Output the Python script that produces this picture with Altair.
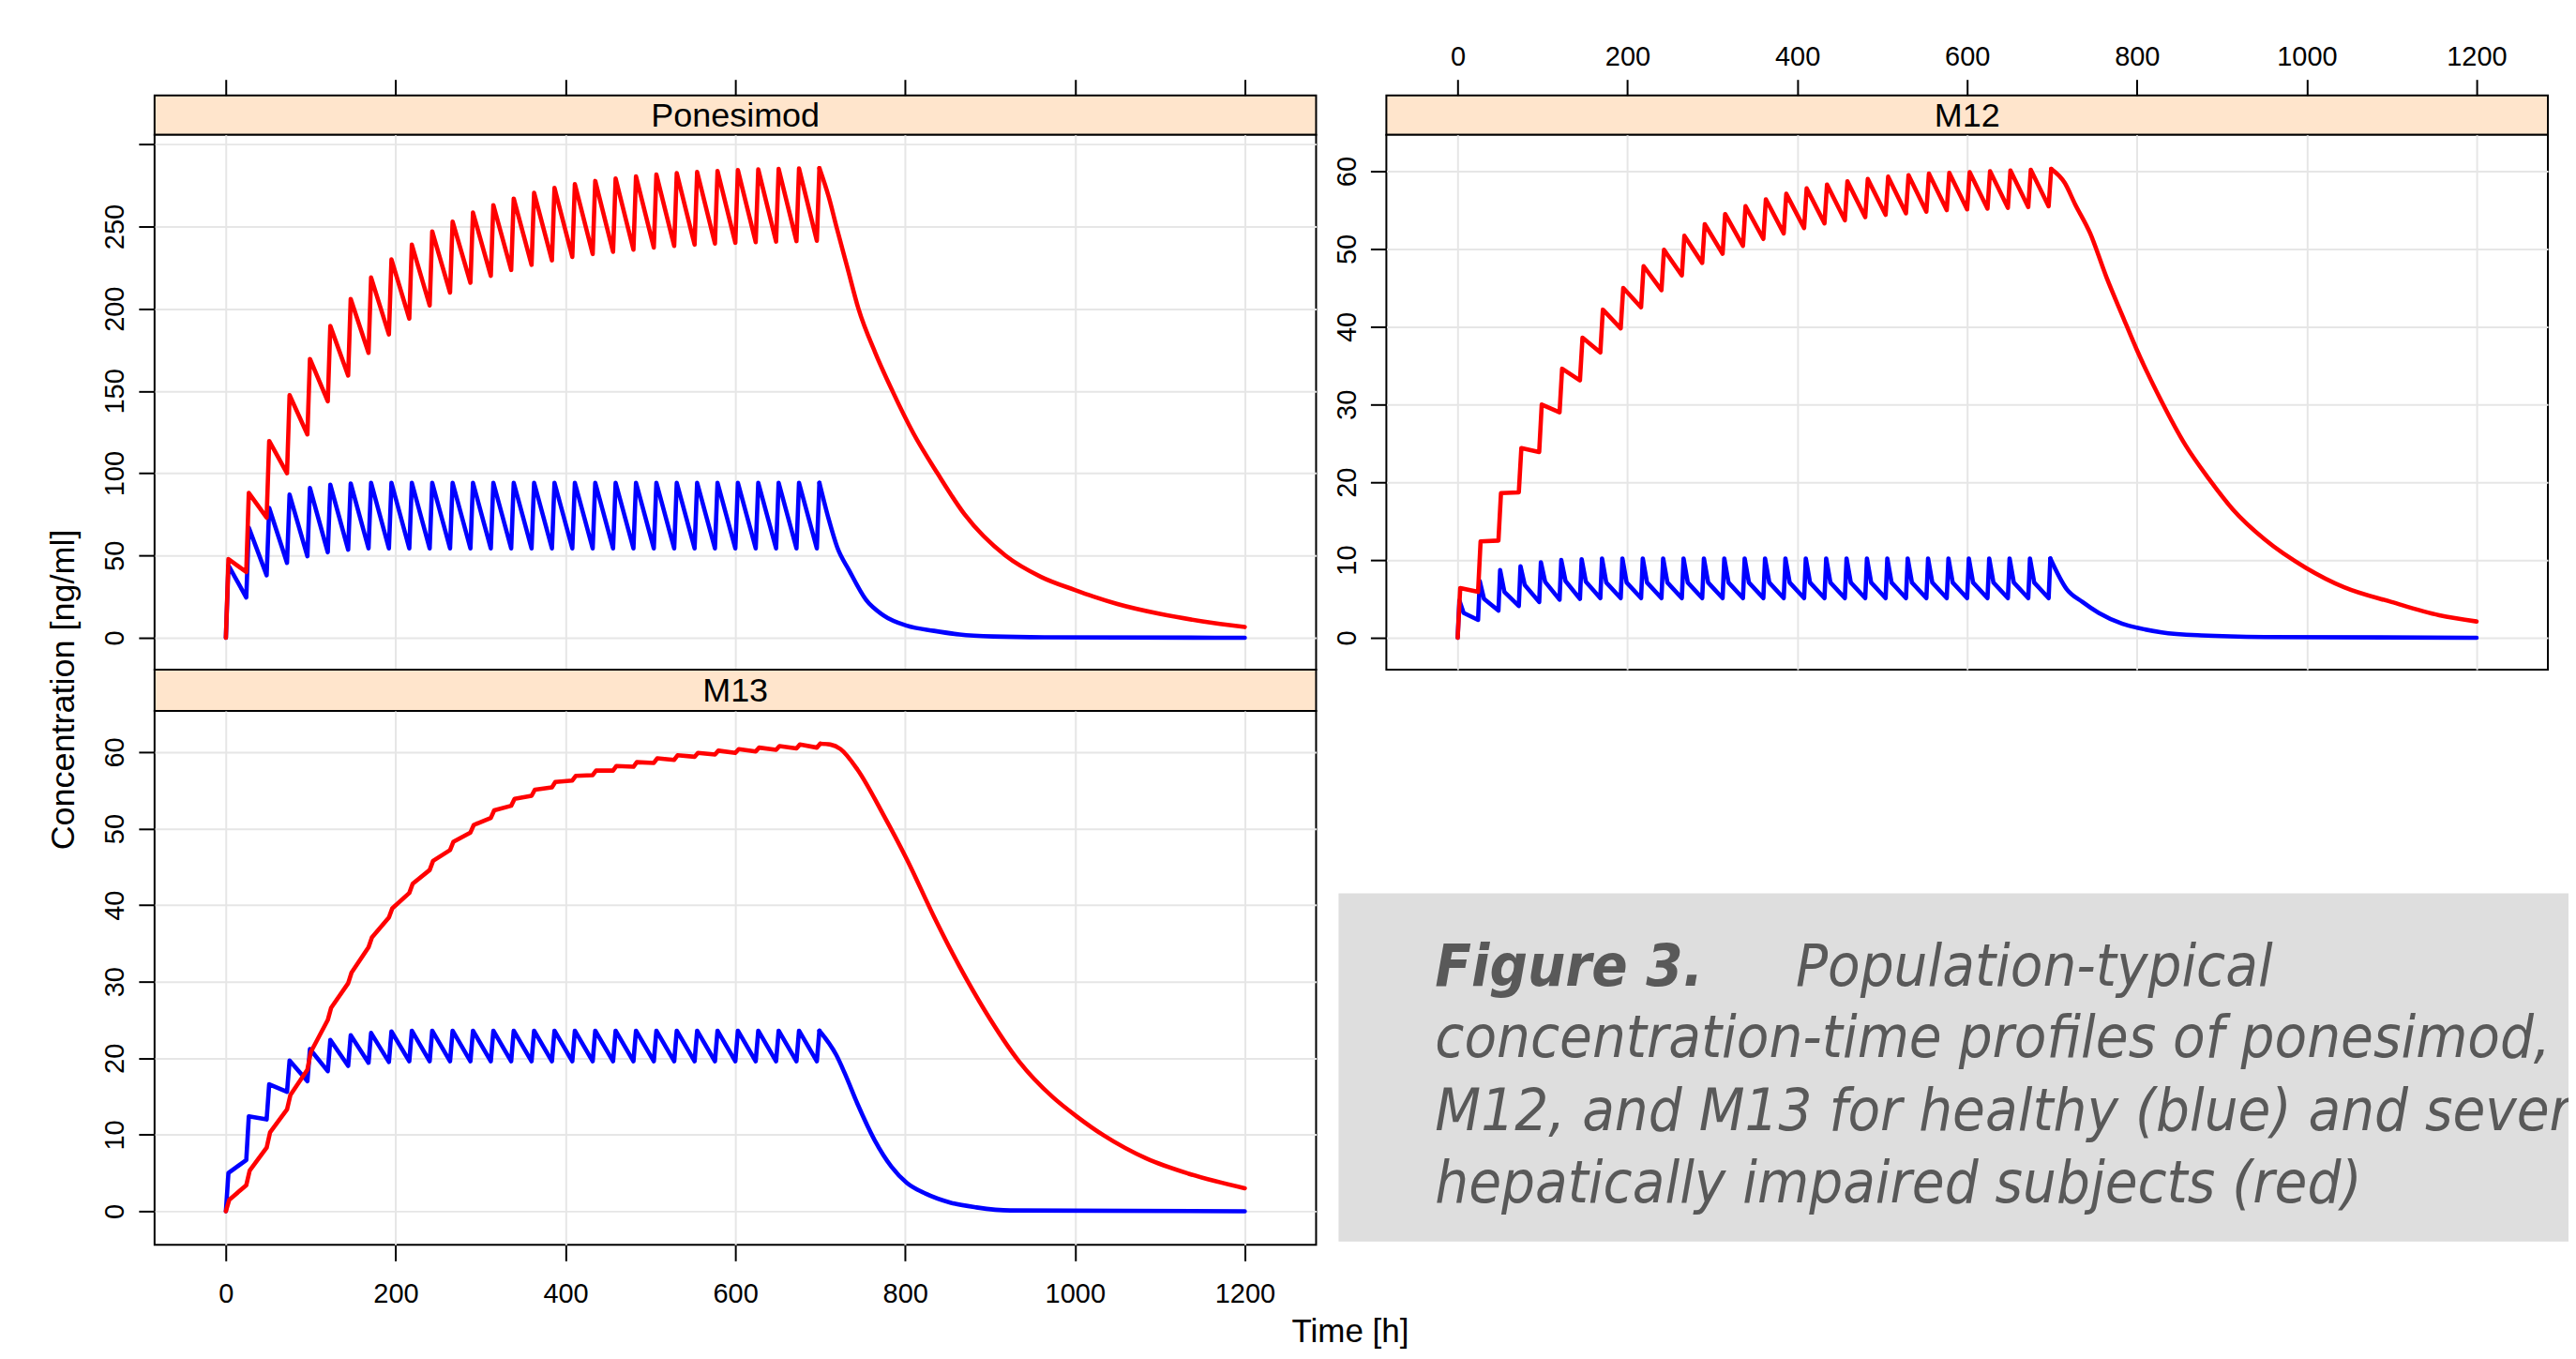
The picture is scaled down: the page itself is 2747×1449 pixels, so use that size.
import altair as alt
import pandas as pd

# ---------------- data ----------------
DOSE_TIMES = [0, 24, 48, 72, 96, 120, 144, 168, 192, 216, 240, 264, 288, 312, 336,
              360, 384, 408, 432, 456, 480, 504, 528, 552, 576, 600, 624, 648, 672, 696]
START_VALUE = 0.0

# Ponesimod - severe hepatic impairment (red)
PON_RED_DELAY = 3
PON_RED_PEAKS = [47.8, 88.0, 119.6, 147.5, 169.5, 189.5, 206.0, 219.0, 230.0, 239.0,
                 247.0, 253.0, 258.5, 263.0, 267.0, 270.5, 273.5, 275.8, 277.7, 279.2,
                 280.5, 281.6, 282.5, 283.2, 283.8, 284.3, 284.7, 285.0, 285.3, 285.5]
PON_RED_TROUGHS = [40.0, 73.0, 100.0, 123.6, 143.7, 159.4, 173.2, 184.4, 194.0, 202.0,
                   209.8, 215.8, 220.0, 223.6, 226.7, 229.4, 231.5, 233.3, 234.6, 235.9,
                   237.2, 238.2, 239.0, 239.6, 240.1, 240.5, 240.8, 241.1, 241.3]
PON_RED_TAIL_T = [710, 719, 732, 745, 765, 785, 810, 838, 870, 918, 960, 1000, 1022, 1050, 1100, 1150, 1200]
PON_RED_TAIL_V = [268, 250, 225, 200, 173, 150, 124, 100, 75, 50, 37, 29, 25, 20.5, 14.5, 10, 6.5]

# Ponesimod - healthy (blue)
PON_BLUE_DELAY = 3
PON_BLUE_PEAKS = [44.0, 67.0, 79.0, 87.0, 91.0, 93.0, 93.8, 94.2, 94.2, 94.2,
                  94.2, 94.2, 94.2, 94.2, 94.2, 94.2, 94.2, 94.2, 94.2, 94.2,
                  94.2, 94.2, 94.2, 94.2, 94.2, 94.2, 94.2, 94.2, 94.2, 94.2]
PON_BLUE_TROUGHS = [24.5, 38.0, 45.5, 49.5, 52.0, 53.5, 54.3, 54.3, 54.3, 54.3,
                    54.3, 54.3, 54.3, 54.3, 54.3, 54.3, 54.3, 54.3, 54.3, 54.3,
                    54.3, 54.3, 54.3, 54.3, 54.3, 54.3, 54.3, 54.3, 54.3]
PON_BLUE_TAIL_T = [710, 720, 734, 754, 774, 802, 834, 864, 904, 964, 1200]
PON_BLUE_TAIL_V = [72, 55, 41, 23, 13.8, 7.3, 4.2, 2.0, 0.8, 0.3, 0.0]

# M12 - red
M12_RED_DELAY = 3
M12_RED_PEAKS = [6.4, 12.4, 18.6, 24.4, 30.0, 34.6, 38.6, 42.2, 45.0, 47.8,
                 49.9, 51.7, 53.2, 54.5, 55.5, 56.4, 57.1, 57.8, 58.3, 58.7,
                 59.0, 59.3, 59.5, 59.7, 59.8, 59.9, 60.0, 60.1, 60.2, 60.3]
M12_RED_TROUGHS = [5.9, 12.5, 18.7, 23.9, 29.0, 33.1, 36.7, 39.8, 42.5, 44.7,
                   46.6, 48.2, 49.4, 50.4, 51.3, 52.0, 52.7, 53.3, 53.7, 54.1,
                   54.4, 54.6, 54.8, 55.0, 55.1, 55.2, 55.3, 55.4, 55.5]
M12_RED_TAIL_T = [715, 727, 745, 764, 783, 800, 829, 857, 885, 913, 951, 999, 1044, 1100, 1156, 1200]
M12_RED_TAIL_V = [58.5, 55.8, 52.0, 46.4, 41.4, 37.0, 30.4, 24.8, 20.4, 16.5, 12.6, 9.0, 6.5, 4.6, 2.9, 2.1]

# M12 - blue
M12_BLUE_DELAY = 2
M12_BLUE_MID_DELAY = 7
M12_BLUE_PEAKS = [4.8, 7.3, 8.7, 9.2, 9.7, 10.0, 10.1, 10.2, 10.2, 10.2,
                  10.2, 10.2, 10.2, 10.2, 10.2, 10.2, 10.2, 10.2, 10.2, 10.2,
                  10.2, 10.2, 10.2, 10.2, 10.2, 10.2, 10.2, 10.2, 10.2, 10.2]
M12_BLUE_MIDS = [3.2, 5.0, 5.9, 6.8, 7.2, 7.3, 7.2, 7.1, 7.1, 7.1,
                 7.1, 7.1, 7.1, 7.1, 7.1, 7.1, 7.1, 7.1, 7.1, 7.1,
                 7.1, 7.1, 7.1, 7.1, 7.1, 7.1, 7.1, 7.1, 7.1, 7.1]
M12_BLUE_TROUGHS = [2.3, 3.5, 4.1, 4.6, 4.9, 5.0, 5.1, 5.1, 5.1, 5.1,
                    5.1, 5.1, 5.1, 5.1, 5.1, 5.1, 5.1, 5.1, 5.1, 5.1,
                    5.1, 5.1, 5.1, 5.1, 5.1, 5.1, 5.1, 5.1, 5.1]
M12_BLUE_TAIL_T = [717, 736, 755, 783, 800, 829, 876, 950, 1200]
M12_BLUE_TAIL_V = [6.3, 4.6, 3.2, 1.8, 1.3, 0.7, 0.3, 0.1, 0.0]

# M13 - red
M13_RED_DELAY = 4
M13_RED_PEAKS = [1.5, 5.3, 10.3, 15.2, 20.8, 26.6, 31.2, 35.8, 39.6, 42.8,
                 45.8, 48.3, 50.5, 52.4, 53.9, 55.1, 56.1, 56.9, 57.6, 58.2,
                 58.7, 59.2, 59.6, 59.9, 60.2, 60.4, 60.6, 60.8, 61.0, 61.1]
M13_RED_TROUGHS = [3.4, 8.3, 13.3, 18.5, 25.0, 29.8, 34.5, 38.4, 41.6, 44.6,
                   47.2, 49.5, 51.4, 53.0, 54.3, 55.4, 56.3, 57.0, 57.6, 58.1,
                   58.6, 59.0, 59.4, 59.7, 59.9, 60.1, 60.3, 60.5, 60.6]
M13_RED_TAIL_T = [712, 724, 744, 774, 802, 834, 864, 894, 934, 974, 1002, 1034, 1084, 1134, 1200]
M13_RED_TAIL_V = [61.0, 60.4, 57.7, 51.9, 46.0, 38.5, 32.0, 26.2, 19.6, 14.9, 12.4, 9.9, 6.9, 4.9, 3.0]

# M13 - blue
M13_BLUE_DELAY = 3
M13_BLUE_PEAKS = [5.0, 12.4, 16.6, 19.7, 21.2, 22.4, 23.0, 23.3, 23.5, 23.6,
                  23.6, 23.6, 23.6, 23.6, 23.6, 23.6, 23.6, 23.6, 23.6, 23.6,
                  23.6, 23.6, 23.6, 23.6, 23.6, 23.6, 23.6, 23.6, 23.6, 23.6]
M13_BLUE_TROUGHS = [6.7, 12.0, 15.6, 17.0, 18.3, 19.0, 19.4, 19.5, 19.6, 19.6,
                    19.6, 19.6, 19.6, 19.6, 19.6, 19.6, 19.6, 19.6, 19.6, 19.6,
                    19.6, 19.6, 19.6, 19.6, 19.6, 19.6, 19.6, 19.6, 19.6]
M13_BLUE_TAIL_T = [719, 729, 744, 764, 784, 802, 824, 854, 884, 924, 1200]
M13_BLUE_TAIL_V = [20.4, 18.0, 14.0, 9.3, 5.8, 3.7, 2.3, 1.1, 0.5, 0.1, 0.0]

PANELS = ["Ponesimod", "M12", "M13"]
X_TICKS = [0, 200, 400, 600, 800, 1000, 1200]
X_DOMAIN = [-84, 1284]
PON_Y_TICKS = [0, 50, 100, 150, 200, 250, 300]
M_Y_TICKS = [0, 10, 20, 30, 40, 50, 60]
PON_Y_DOMAIN = [-19.4, 305.8]
M12_Y_DOMAIN = [-4.1, 64.7]
M13_Y_DOMAIN = [-4.4, 65.4]

CAPTION_BOLD = "Figure 3."
CAPTION_LINES = ["Population-typical",
                 "concentration-time profiles of ponesimod,",
                 "M12, and M13 for healthy (blue) and severe",
                 "hepatically impaired subjects (red)"]
X_TITLE = "Time [h]"
Y_TITLE = "Concentration [ng/ml]"

# ---------------- styling ----------------
FONT = "Liberation Sans"
CAP_FONT = "DejaVu Sans Condensed, DejaVu Sans"
GRID = "#e6e6e6"
STRIP_FILL = "#ffe5cc"
BLUE = "#0000ff"
RED = "#ff0000"
LINE_W = 4.6
PANEL_W = 1240
STRIP_H = 42
PLOT_H = 571
M13_STRIP_H = 44
M13_PLOT_H = 570
CAP_W = 1262


def profile(delay, peaks, troughs, tail_t, tail_v, mid_delay=None, mids=None):
    """Dosing phase (straight segments) and wash-out tail (smooth)."""
    t, c = [0], [START_VALUE]
    for k, d in enumerate(DOSE_TIMES):
        if k > 0:
            t.append(d)
            c.append(troughs[k - 1])
        t.append(d + delay)
        c.append(peaks[k])
        if mids is not None and k < len(DOSE_TIMES) - 1:
            t.append(d + mid_delay)
            c.append(mids[k])
    dose = pd.DataFrame({"t": t, "c": c, "i": list(range(len(t)))})
    tt = [t[-1]] + list(tail_t)
    tc = [c[-1]] + list(tail_v)
    tail = pd.DataFrame({"t": tt, "c": tc, "i": list(range(len(tt)))})
    return dose, tail


xscale = alt.Scale(domain=X_DOMAIN, nice=False, zero=False)


def strip(name, height, ticks, labels):
    df = pd.DataFrame({"t": X_TICKS})
    if ticks:
        ax = alt.Axis(orient="top", values=X_TICKS, grid=False, domain=False, ticks=True,
                      tickSize=17, tickWidth=2, tickColor="black", labels=labels, format="d",
                      labelFont=FONT, labelFontSize=29, labelColor="black",
                      labelBaseline="alphabetic", labelPadding=15, labelFlush=False,
                      labelOverlap=False, title=None)
    else:
        ax = None
    base = alt.Chart(df).mark_point(opacity=0).encode(
        x=alt.X("t:Q", scale=xscale, axis=ax),
    )
    txt = alt.Chart(pd.DataFrame({"name": [name]})).mark_text(
        font=FONT, fontSize=36, color="black", baseline="middle", align="center"
    ).encode(x=alt.value(PANEL_W / 2), y=alt.value(height / 2 + 1), text="name:N")
    return alt.layer(base, txt).properties(
        width=PANEL_W, height=height,
        view=alt.ViewBackground(fill=STRIP_FILL, stroke="black", strokeWidth=2),
    )


def plot(blue, red, y_domain, y_ticks, height, bottom, label_expr=None, y_title=False):
    yax_kw = dict(values=y_ticks, grid=True, gridColor=GRID, gridWidth=2, domain=False,
                  ticks=True, tickSize=17, tickWidth=2, tickColor="black", format="d",
                  labelAngle=270, labelAlign="center", labelBaseline="alphabetic",
                  labelPadding=16, labelFont=FONT, labelFontSize=29, labelColor="black",
                  labelOverlap=False, labelFlush=False)
    if label_expr:
        yax_kw["labelExpr"] = label_expr
    if y_title:
        yax_kw.update(title=Y_TITLE, titleFont=FONT, titleFontSize=36, titleFontWeight="normal",
                      titleColor="black", titleAngle=270, titleAlign="center",
                      titleBaseline="alphabetic", titleX=-86, titleY=-23)
    else:
        yax_kw["title"] = None
    yax = alt.Axis(**yax_kw)
    if bottom:
        xax = alt.Axis(values=X_TICKS, grid=True, gridColor=GRID, gridWidth=2, domain=False,
                       ticks=True, tickSize=17, tickWidth=2, tickColor="black", format="d",
                       labels=True, labelFont=FONT, labelFontSize=29, labelColor="black",
                       labelBaseline="top", labelPadding=21, labelFlush=False, labelOverlap=False,
                       title=X_TITLE, titleFont=FONT, titleFontSize=35, titleFontWeight="normal",
                       titleColor="black", titleAlign="center", titleBaseline="alphabetic",
                       titleX=1276, titleY=103)
    else:
        xax = alt.Axis(values=X_TICKS, grid=True, gridColor=GRID, gridWidth=2, domain=False,
                       ticks=False, labels=False, title=None)
    yscale = alt.Scale(domain=y_domain, nice=False, zero=False)
    layers = []
    for (dose, tail), col in ((blue, BLUE), (red, RED)):
        for df, interp in ((dose, "linear"), (tail, "monotone")):
            layers.append(
                alt.Chart(df).mark_line(color=col, strokeWidth=LINE_W, strokeJoin="round",
                                        strokeCap="round", interpolate=interp).encode(
                    x=alt.X("t:Q", scale=xscale, axis=xax),
                    y=alt.Y("c:Q", scale=yscale, axis=yax),
                    order="i:Q",
                )
            )
    return alt.layer(*layers).properties(
        width=PANEL_W, height=height,
        view=alt.ViewBackground(fill="white", stroke="black", strokeWidth=2),
    )


pon_red = profile(PON_RED_DELAY, PON_RED_PEAKS, PON_RED_TROUGHS, PON_RED_TAIL_T, PON_RED_TAIL_V)
pon_blue = profile(PON_BLUE_DELAY, PON_BLUE_PEAKS, PON_BLUE_TROUGHS, PON_BLUE_TAIL_T, PON_BLUE_TAIL_V)
m12_red = profile(M12_RED_DELAY, M12_RED_PEAKS, M12_RED_TROUGHS, M12_RED_TAIL_T, M12_RED_TAIL_V)
m12_blue = profile(M12_BLUE_DELAY, M12_BLUE_PEAKS, M12_BLUE_TROUGHS, M12_BLUE_TAIL_T, M12_BLUE_TAIL_V,
                   M12_BLUE_MID_DELAY, M12_BLUE_MIDS)
m13_red = profile(M13_RED_DELAY, M13_RED_PEAKS, M13_RED_TROUGHS, M13_RED_TAIL_T, M13_RED_TAIL_V)
m13_blue = profile(M13_BLUE_DELAY, M13_BLUE_PEAKS, M13_BLUE_TROUGHS, M13_BLUE_TAIL_T, M13_BLUE_TAIL_V)

pon_strip = strip(PANELS[0], STRIP_H, True, False)
m12_strip = strip(PANELS[1], STRIP_H, True, True)
pon_plot = plot(pon_blue, pon_red, PON_Y_DOMAIN, PON_Y_TICKS, PLOT_H, False,
                label_expr="datum.value == 300 ? '' : datum.label")
m12_plot = plot(m12_blue, m12_red, M12_Y_DOMAIN, M_Y_TICKS, PLOT_H, False)
m13_strip = strip(PANELS[2], M13_STRIP_H, False, False)
m13_plot = plot(m13_blue, m13_red, M13_Y_DOMAIN, M_Y_TICKS, M13_PLOT_H, True, y_title=True)

# empty cell beside the M13 strip
spacer = alt.Chart(pd.DataFrame({"a": [0]})).mark_point(opacity=0).encode(
    x=alt.value(0), y=alt.value(0)
).properties(width=CAP_W, height=M13_STRIP_H,
             view=alt.ViewBackground(strokeOpacity=0, fillOpacity=0))

# caption box (cell origin is the left of the M12 column / top of the M13 plot row)
cap_df = pd.DataFrame({"a": [0]})
cap_layers = [
    alt.Chart(cap_df).mark_rect(color="#dedede").encode(
        x=alt.value(-51), x2=alt.value(CAP_W), y=alt.value(194.7), y2=alt.value(566.3)
    )
]
cap_layers.append(
    alt.Chart(pd.DataFrame({"s": [CAPTION_BOLD]})).mark_text(
        font=CAP_FONT, fontSize=63, fontStyle="italic", fontWeight="bold", color="#595959",
        align="left", baseline="alphabetic", clip=True
    ).encode(x=alt.value(52), y=alt.value(293.7), text="s:N")
)
cap_pos = [(437, 293.7), (52, 369.7), (52, 448.0), (52, 524.7)]
for line, (px, py) in zip(CAPTION_LINES, cap_pos):
    cap_layers.append(
        alt.Chart(pd.DataFrame({"s": [line]})).mark_text(
            font=CAP_FONT, fontSize=63, fontStyle="italic", color="#595959",
            align="left", baseline="alphabetic", clip=True
        ).encode(x=alt.value(px), y=alt.value(py), text="s:N")
    )
caption = alt.layer(*cap_layers).properties(
    width=CAP_W, height=M13_PLOT_H,
    view=alt.ViewBackground(strokeOpacity=0, fillOpacity=0),
)

chart = alt.concat(
    pon_strip, m12_strip,
    pon_plot, m12_plot,
    m13_strip, spacer,
    m13_plot, caption,
    columns=2, spacing={"row": 0, "column": 75}, bounds="flush",
).properties(
    padding={"left": 40, "top": 37, "right": 0, "bottom": 0},
    background="white",
)

chart.save("out.html", embed_options={"renderer": "svg", "actions": False})
